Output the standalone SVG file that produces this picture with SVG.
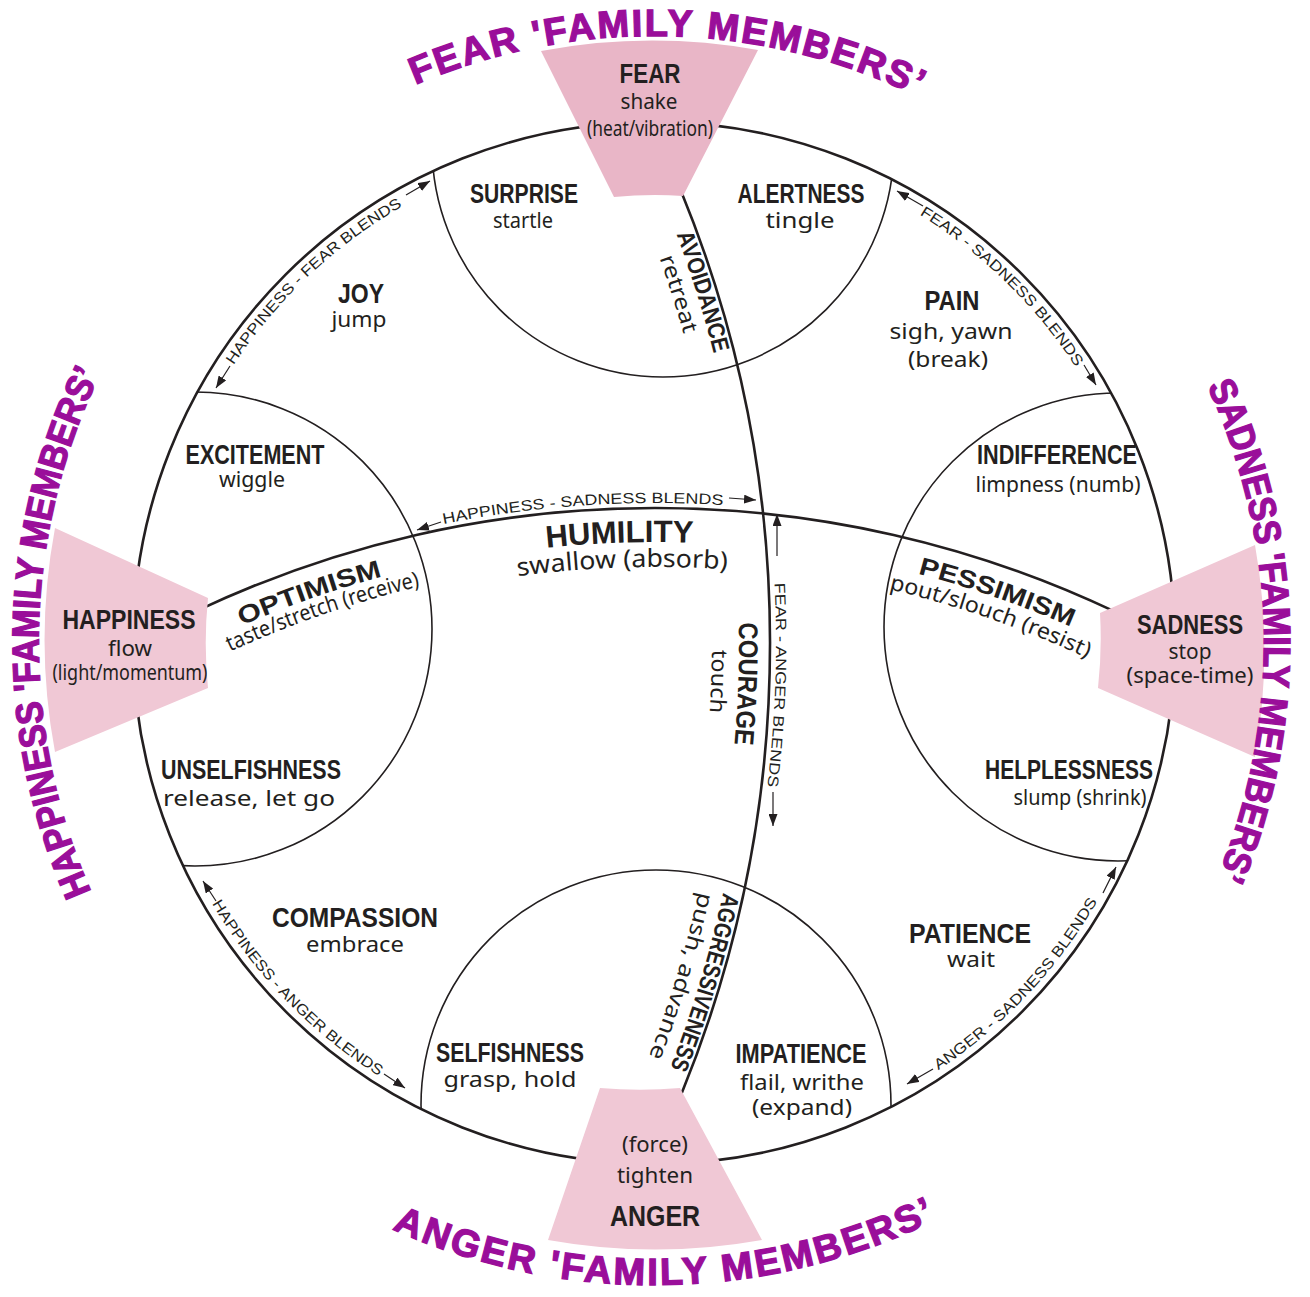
<svg xmlns="http://www.w3.org/2000/svg" width="1310" height="1297" viewBox="0 0 1310 1297">
<defs>
<style>
.ln{fill:none;stroke:#231f20}
.t{font-family:"Liberation Sans",Arial,sans-serif;font-weight:bold;font-size:27px;fill:#231f20;text-anchor:middle}
.s{font-family:"Noto Sans","DejaVu Sans",sans-serif;font-size:22px;fill:#231f20;text-anchor:middle}
.b{font-family:"Liberation Sans",Arial,sans-serif;font-size:15px;fill:#231f20;text-anchor:middle}
.fm{font-family:"Liberation Sans",Arial,sans-serif;font-weight:bold;font-size:38px;fill:#9a0e9a;stroke:#9a0e9a;stroke-width:1.3;text-anchor:middle}
.ar{stroke:#231f20;stroke-width:1.2;fill:none;marker-end:url(#ah)}
.pk{fill:#f0c8d5;stroke:none}
</style>
<marker id="ah" viewBox="0 0 12 9" refX="12" refY="4.5" markerWidth="12" markerHeight="9" markerUnits="userSpaceOnUse" orient="auto"><path d="M0,0 L12,4.5 L0,9 z" fill="#231f20"/></marker>
<clipPath id="cc"><circle cx="654" cy="643" r="521"/></clipPath>
<path id="fmT" d="M 135.3 327.7 A 607 607 0 0 1 1186.4 351.5"/>
<path id="fmL" d="M 337.1 1170.4 A 616 616 0 0 1 355.4 104.2"/>
<path id="fmR" d="M 947.9 108.5 A 610 610 0 0 1 970 1164.8"/>
<path id="fmB" d="M 103.6 973.7 A 642 642 0 0 0 1215.5 954.2"/>
<path id="bHF" d="M 171.4 497.7 A 504 504 0 0 1 538.5 152.4"/>
<path id="bFS" d="M 778.5 154.6 A 504 504 0 0 1 1139.2 506.6"/>
<path id="bHA" d="M 156.3 767.6 A 513 513 0 0 0 513.0 1136.2"/>
<path id="bAS" d="M 801.4 1134.4 A 513 513 0 0 0 1153.3 761.0"/>
<path id="bHS" d="M 219.6 595 A 1077 1077 0 0 1 954.6 545.5"/>
<path id="bFA" d="M 749.8 393.9 A 1198 1198 0 0 1 729.6 973.2"/>
<path id="v1172" d="M 640.2 147.7 A 1172 1172 0 0 1 640.2 1138.3"/>
<path id="v1148" d="M 618.4 157.9 A 1148 1148 0 0 1 618.4 1128.1"/>
<path id="v1161" d="M 630.2 152.4 A 1161 1161 0 0 1 630.2 1133.6"/>
<path id="v1134" d="M 605.7 163.8 A 1134 1134 0 0 1 605.7 1122.2"/>
<path id="h1040" d="M -13.5 783.3 A 1040 1040 0 0 1 1323.5 783.3"/>
<path id="h1021" d="M -1.3 797.9 A 1021 1021 0 0 1 1311.3 797.9"/>
<path id="h1038" d="M -12.2 784.9 A 1038 1038 0 0 1 1322.2 784.9"/>
<path id="h1013" d="M 3.8 804.0 A 1013 1013 0 0 1 1306.2 804.0"/>
<path id="h1018" d="M 0.6 800.2 A 1018 1018 0 0 1 1309.4 800.2"/>
</defs>
<rect width="1310" height="1297" fill="#ffffff"/>

<g id="connectors">
<circle cx="654" cy="643" r="521" class="ln" stroke-width="2.6"/>
<g clip-path="url(#cc)" class="ln" stroke-width="1.6">
<circle cx="663" cy="146" r="231"/>
<circle cx="195" cy="629" r="237"/>
<circle cx="1118" cy="627" r="234"/>
<circle cx="656" cy="1105" r="235"/>
</g>
<path class="ln" stroke-width="2.6" d="M 195 611.7 A 1072 1072 0 0 1 1115 611.7"/>
<path class="ln" stroke-width="2.6" d="M 680.6 190 A 1192 1192 0 0 1 681.4 1094"/>
<line class="ar" x1="230" y1="366" x2="216" y2="388"/>
<line class="ar" x1="406" y1="195" x2="430" y2="181"/>
<line class="ar" x1="923" y1="206" x2="897" y2="191"/>
<line class="ar" x1="1084" y1="365" x2="1096" y2="385"/>
<line class="ar" x1="216" y1="901" x2="203" y2="881"/>
<line class="ar" x1="384" y1="1074" x2="405" y2="1088"/>
<line class="ar" x1="933" y1="1069" x2="907" y2="1084"/>
<line class="ar" x1="1103" y1="893" x2="1116" y2="867"/>
<line class="ar" x1="441" y1="522" x2="417" y2="530"/>
<line class="ar" x1="729" y1="498" x2="756" y2="500"/>
<line class="ar" x1="777" y1="556" x2="777" y2="514"/>
<line class="ar" x1="773" y1="792" x2="773" y2="826"/>
<text class="b"><textPath href="#bHF" startOffset="50%" textLength="234" lengthAdjust="spacingAndGlyphs">HAPPINESS - FEAR BLENDS</textPath></text>
<text class="b"><textPath href="#bFS" startOffset="50%" textLength="220" lengthAdjust="spacingAndGlyphs">FEAR - SADNESS BLENDS</textPath></text>
<text class="b"><textPath href="#bHA" startOffset="50%" textLength="242" lengthAdjust="spacingAndGlyphs">HAPPINESS - ANGER BLENDS</textPath></text>
<text class="b"><textPath href="#bAS" startOffset="50%" textLength="234" lengthAdjust="spacingAndGlyphs">ANGER - SADNESS BLENDS</textPath></text>
<text class="b"><textPath href="#bHS" startOffset="50%" textLength="281" lengthAdjust="spacingAndGlyphs">HAPPINESS - SADNESS BLENDS</textPath></text>
<text class="b"><textPath href="#bFA" startOffset="292.9" textLength="204" lengthAdjust="spacingAndGlyphs">FEAR - ANGER BLENDS</textPath></text>
</g>

<g id="fear">
<path class="pk" style="fill:#e9b6c7" d="M 541 51 A 603 603 0 0 1 758 50 L 683 196 A 448 448 0 0 0 614 197 Z"/>
<text class="t" x="650" y="83" textLength="61" lengthAdjust="spacingAndGlyphs">FEAR</text>
<text class="s" x="649" y="109" textLength="57" lengthAdjust="spacingAndGlyphs">shake</text>
<text class="s" x="650" y="136" textLength="126" lengthAdjust="spacingAndGlyphs">(heat/vibration)</text>
</g>
<g id="happiness">
<path class="pk" d="M 55 752 A 609 609 0 0 1 55 528 L 208 598 A 448 448 0 0 0 208 688 Z"/>
<text class="t" x="129" y="629" textLength="133" lengthAdjust="spacingAndGlyphs">HAPPINESS</text>
<text class="s" x="130" y="656" textLength="44" lengthAdjust="spacingAndGlyphs">flow</text>
<text class="s" x="130" y="680" textLength="155" lengthAdjust="spacingAndGlyphs">(light/momentum)</text>
</g>
<g id="sadness">
<path class="pk" d="M 1255 545 A 609 609 0 0 1 1255 757 L 1098 688 A 448 448 0 0 0 1100 613 Z"/>
<text class="t" x="1190" y="634" textLength="106" lengthAdjust="spacingAndGlyphs">SADNESS</text>
<text class="s" x="1190" y="659" textLength="43" lengthAdjust="spacingAndGlyphs">stop</text>
<text class="s" x="1190" y="683" textLength="127" lengthAdjust="spacingAndGlyphs">(space-time)</text>
</g>
<g id="anger">
<path class="pk" d="M 600 1088 A 448 448 0 0 0 680 1088 L 762 1240 A 606 606 0 0 1 548 1240 Z"/>
<text class="s" x="655" y="1152" textLength="66" lengthAdjust="spacingAndGlyphs">(force)</text>
<text class="s" x="655" y="1183" textLength="76" lengthAdjust="spacingAndGlyphs">tighten</text>
<text class="t" x="655" y="1226" style="font-size:29px" textLength="90" lengthAdjust="spacingAndGlyphs">ANGER</text>
</g>

<g id="family-labels">
<text class="fm"><textPath href="#fmT" startOffset="50%" textLength="518" lengthAdjust="spacing">FEAR 'FAMILY MEMBERS’</textPath></text>
<text class="fm"><textPath href="#fmL" startOffset="50%" textLength="534" lengthAdjust="spacingAndGlyphs">HAPPINESS 'FAMILY MEMBERS’</textPath></text>
<text class="fm"><textPath href="#fmR" startOffset="50%" textLength="505" lengthAdjust="spacingAndGlyphs">SADNESS 'FAMILY MEMBERS’</textPath></text>
<text class="fm"><textPath href="#fmB" startOffset="50%" textLength="562" lengthAdjust="spacing">ANGER 'FAMILY MEMBERS’</textPath></text>
</g>

<g id="surprise"><text class="t" x="524" y="203" textLength="108" lengthAdjust="spacingAndGlyphs">SURPRISE</text><text class="s" x="523" y="228" textLength="60" lengthAdjust="spacingAndGlyphs">startle</text></g>
<g id="alertness"><text class="t" x="801" y="203" textLength="127" lengthAdjust="spacingAndGlyphs">ALERTNESS</text><text class="s" x="800" y="228" textLength="69" lengthAdjust="spacingAndGlyphs">tingle</text></g>
<g id="joy"><text class="t" x="361" y="303" textLength="46" lengthAdjust="spacingAndGlyphs">JOY</text><text class="s" x="359" y="327" textLength="55" lengthAdjust="spacingAndGlyphs">jump</text></g>
<g id="pain"><text class="t" x="952" y="310" textLength="55" lengthAdjust="spacingAndGlyphs">PAIN</text><text class="s" x="951" y="339" textLength="123" lengthAdjust="spacingAndGlyphs">sigh, yawn</text><text class="s" x="948" y="367" textLength="80" lengthAdjust="spacingAndGlyphs">(break)</text></g>
<g id="excitement"><text class="t" x="255" y="464" textLength="139" lengthAdjust="spacingAndGlyphs">EXCITEMENT</text><text class="s" x="252" y="487" textLength="66" lengthAdjust="spacingAndGlyphs">wiggle</text></g>
<g id="indifference"><text class="t" x="1057" y="464" textLength="160" lengthAdjust="spacingAndGlyphs">INDIFFERENCE</text><text class="s" x="1058" y="492" textLength="165" lengthAdjust="spacingAndGlyphs">limpness (numb)</text></g>
<g id="unselfishness"><text class="t" x="251" y="779" textLength="180" lengthAdjust="spacingAndGlyphs">UNSELFISHNESS</text><text class="s" x="249" y="806" textLength="172" lengthAdjust="spacingAndGlyphs">release, let go</text></g>
<g id="helplessness"><text class="t" x="1069" y="779" textLength="168" lengthAdjust="spacingAndGlyphs">HELPLESSNESS</text><text class="s" x="1080" y="805" textLength="133" lengthAdjust="spacingAndGlyphs">slump (shrink)</text></g>
<g id="compassion"><text class="t" x="355" y="927" textLength="166" lengthAdjust="spacingAndGlyphs">COMPASSION</text><text class="s" x="355" y="952" textLength="98" lengthAdjust="spacingAndGlyphs">embrace</text></g>
<g id="patience"><text class="t" x="970" y="943" textLength="122" lengthAdjust="spacingAndGlyphs">PATIENCE</text><text class="s" x="971" y="967" textLength="48" lengthAdjust="spacingAndGlyphs">wait</text></g>
<g id="selfishness"><text class="t" x="510" y="1062" textLength="148" lengthAdjust="spacingAndGlyphs">SELFISHNESS</text><text class="s" x="510" y="1087" textLength="133" lengthAdjust="spacingAndGlyphs">grasp, hold</text></g>
<g id="impatience"><text class="t" x="801" y="1063" textLength="131" lengthAdjust="spacingAndGlyphs">IMPATIENCE</text><text class="s" x="802" y="1090" textLength="124" lengthAdjust="spacingAndGlyphs">flail, writhe</text><text class="s" x="802" y="1115" textLength="100" lengthAdjust="spacingAndGlyphs">(expand)</text></g>

<g id="optimism">
<text class="t" style="font-size:25px"><textPath href="#h1040" startOffset="375.7" textLength="149" lengthAdjust="spacingAndGlyphs">OPTIMISM</textPath></text>
<text class="s"><textPath href="#h1021" startOffset="375.1" textLength="201" lengthAdjust="spacingAndGlyphs">taste/stretch (receive)</textPath></text>
</g>
<g id="humility">
<text class="t" style="font-size:31px"><textPath href="#h1038" startOffset="689.3" textLength="147" lengthAdjust="spacingAndGlyphs">HUMILITY</textPath></text>
<text class="s" style="font-size:25px"><textPath href="#h1013" startOffset="674.5" textLength="210" lengthAdjust="spacingAndGlyphs">swallow (absorb)</textPath></text>
</g>
<g id="pessimism">
<text class="t" style="font-size:25px"><textPath href="#h1040" startOffset="1072.7" textLength="162" lengthAdjust="spacingAndGlyphs">PESSIMISM</textPath></text>
<text class="s"><textPath href="#h1018" startOffset="1051.8" textLength="210" lengthAdjust="spacingAndGlyphs">pout/slouch (resist)</textPath></text>
</g>
<g id="avoidance">
<text class="t" style="font-size:24px"><textPath href="#v1172" startOffset="156.5" textLength="125" lengthAdjust="spacingAndGlyphs">AVOIDANCE</textPath></text>
<text class="s"><textPath href="#v1148" startOffset="148.3" textLength="80" lengthAdjust="spacingAndGlyphs">retreat</textPath></text>
</g>
<g id="courage">
<text class="t"><textPath href="#v1161" startOffset="546.9" textLength="122" lengthAdjust="spacingAndGlyphs">COURAGE</textPath></text>
<text class="s"><textPath href="#v1134" startOffset="533" textLength="63" lengthAdjust="spacingAndGlyphs">touch</textPath></text>
</g>
<g id="aggressiveness">
<text class="t" style="font-size:24px"><textPath href="#v1172" startOffset="854.2" textLength="183" lengthAdjust="spacingAndGlyphs">AGGRESSIVENESS</textPath></text>
<text class="s"><textPath href="#v1148" startOffset="837.5" textLength="172" lengthAdjust="spacingAndGlyphs">push, advance</textPath></text>
</g>
</svg>
